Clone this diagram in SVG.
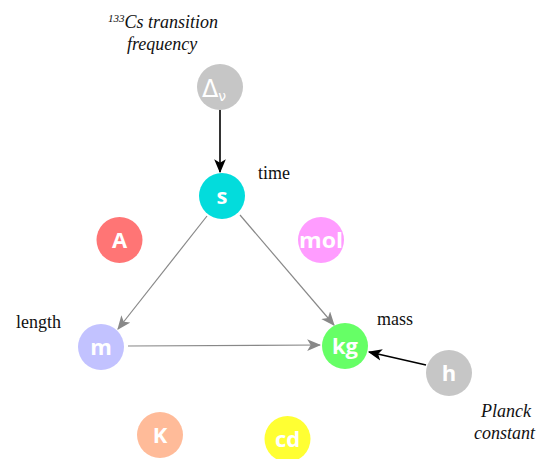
<svg xmlns="http://www.w3.org/2000/svg" width="546" height="459" viewBox="0 0 546 459">
  <style>
    .node { stroke: none; }
    .lbl { font-family: "Open Sans", "DejaVu Sans", sans-serif; font-weight: bold; font-size: 22px; fill: #ffffff; text-anchor: middle; }
    .cap { font-family: "Liberation Serif", "DejaVu Serif", serif; font-size: 18px; fill: #111111; }
    .it { font-style: italic; }
    .edge-grey { stroke: #888888; stroke-width: 1.2; fill: none; }
    .edge-black { stroke: #000000; stroke-width: 1.6; fill: none; }
  </style>
  <defs>
    <marker id="arrow-grey" viewBox="0 0 12 10" refX="11" refY="5" markerWidth="14" markerHeight="12" markerUnits="userSpaceOnUse" orient="auto">
      <path d="M0,0 L12,5 L0,10 L3,5 Z" fill="#888888"/>
    </marker>
    <marker id="arrow-black" viewBox="0 0 12 10" refX="11" refY="5" markerWidth="14" markerHeight="12" markerUnits="userSpaceOnUse" orient="auto">
      <path d="M0,0 L12,5 L0,10 L3,5 Z" fill="#000000"/>
    </marker>
  </defs>

  <rect width="546" height="459" fill="#ffffff"/>

  <g id="connectors">
    <line class="edge-black" x1="220" y1="110" x2="220" y2="172" marker-end="url(#arrow-black)"/>
    <line class="edge-grey" x1="207" y1="216" x2="118" y2="329" marker-end="url(#arrow-grey)"/>
    <line class="edge-grey" x1="240" y1="215" x2="334" y2="325" marker-end="url(#arrow-grey)"/>
    <line class="edge-grey" x1="128" y1="346" x2="320" y2="345" marker-end="url(#arrow-grey)"/>
    <line class="edge-black" x1="426" y1="365" x2="369" y2="352" marker-end="url(#arrow-black)"/>
  </g>

  <g id="node-dnu">
    <circle class="node" cx="220" cy="87" r="23" fill="#c6c6c6"/>
    <text x="214" y="97" font-family="DejaVu Sans, sans-serif" font-size="24" fill="#ffffff" text-anchor="middle">Δ<tspan font-size="14" dy="4">ν</tspan></text>
  </g>
  <g id="node-s">
    <circle class="node" cx="222" cy="196" r="23" fill="#03dcdc"/>
    <text class="lbl" x="222" y="204">s</text>
  </g>
  <g id="node-A">
    <circle class="node" cx="119.5" cy="240" r="23" fill="#ff7575"/>
    <text class="lbl" x="119.5" y="248">A</text>
  </g>
  <g id="node-mol">
    <circle class="node" cx="321" cy="240" r="23" fill="#ff9cff"/>
    <text class="lbl" x="321" y="248" textLength="44" lengthAdjust="spacingAndGlyphs">mol</text>
  </g>
  <g id="node-m">
    <circle class="node" cx="101" cy="347" r="23" fill="#c2c2ff"/>
    <text class="lbl" x="101" y="355">m</text>
  </g>
  <g id="node-kg">
    <circle class="node" cx="345" cy="346" r="23" fill="#66ff66"/>
    <text class="lbl" x="345" y="354">kg</text>
  </g>
  <g id="node-h">
    <circle class="node" cx="449" cy="373" r="23" fill="#c6c6c6"/>
    <text class="lbl" x="449" y="381">h</text>
  </g>
  <g id="node-K">
    <circle class="node" cx="160" cy="435" r="23" fill="#ffbb99"/>
    <text class="lbl" x="160" y="443">K</text>
  </g>
  <g id="node-cd">
    <circle class="node" cx="287.5" cy="439" r="23" fill="#ffff33"/>
    <text class="lbl" x="287.5" y="447">cd</text>
  </g>

  <g id="captions">
    <text class="cap it" x="108" y="28"><tspan font-size="11" dy="-6">133</tspan><tspan dy="6">Cs transition</tspan></text>
    <text class="cap it" x="127" y="50">frequency</text>
    <text class="cap" x="258" y="179">time</text>
    <text class="cap" x="16" y="328">length</text>
    <text class="cap" x="377" y="325">mass</text>
    <text class="cap it" x="481" y="417">Planck</text>
    <text class="cap it" x="474" y="439">constant</text>
  </g>
</svg>
